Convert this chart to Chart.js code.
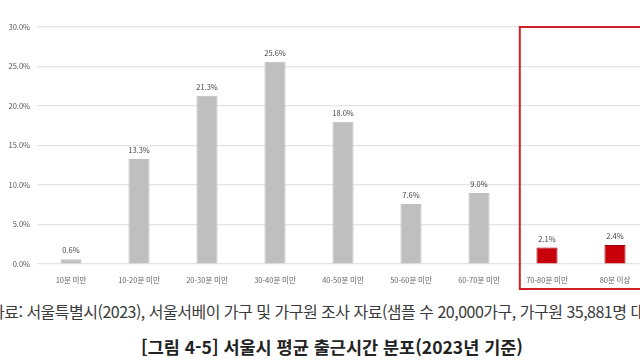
<!DOCTYPE html>
<html lang="ko">
<head>
    <meta charset="UTF-8">
    <title>서울시 평균 출근시간 분포</title>
    <style>
        html, body {
            margin: 0;
            padding: 0;
            background: #fff;
            width: 640px;
            height: 360px;
            overflow: hidden;
            position: relative;
            font-family: 'Noto Sans CJK KR', 'Noto Sans', sans-serif;
        }

        .chart-box {
            position: absolute;
            left: 0;
            top: 0;
            width: 649px;
            height: 292px;
        }

        .source {
            position: absolute;
            left: -10px;
            top: 300px;
            line-height: 22px;
            font-size: 16px;
            color: #3a3a3a;
            white-space: nowrap;
            letter-spacing: -0.5px;
        }

        .title {
            position: absolute;
            left: 0;
            width: 664px;
            top: 335px;
            line-height: 24px;
            text-align: center;
            font-size: 17.5px;
            font-weight: bold;
            color: #222;
            white-space: nowrap;
        }
    </style>
</head>
<body>

    <div class="chart-box">
        <canvas id="commuteChart"></canvas>
    </div>

    <div class="source">자료: 서울특별시(2023), 서울서베이 가구 및 가구원 조사 자료(샘플 수 20,000가구, 가구원 35,881명 대상)</div>
    <div class="title">[그림 4-5] 서울시 평균 출근시간 분포(2023년 기준)</div>

    <script src="https://cdn.jsdelivr.net/npm/chart.js"></script>

    <script>
        // 데이터
        const categories = ['10분 미만', '10-20분 미만', '20-30분 미만', '30-40분 미만', '40-50분 미만',
                            '50-60분 미만', '60-70분 미만', '70-80분 미만', '80분 이상'];
        const shares = [0.6, 13.3, 21.3, 25.6, 18.0, 7.6, 9.0, 2.1, 2.4];
        const yTicks = [0, 5, 10, 15, 20, 25, 30];
        const highlighted = ['70-80분 미만', '80분 이상'];

        const barColors = categories.map(c => highlighted.includes(c) ? '#c8000a' : '#bfbfbf');
        const barBorders = categories.map(c => highlighted.includes(c) ? '#9e0008' : '#bfbfbf');

        // 막대 위 값 표시
        const valueLabels = {
            id: 'valueLabels',
            afterDatasetsDraw(chart) {
                const ctx = chart.ctx;
                const meta = chart.getDatasetMeta(0);
                ctx.save();
                ctx.font = '7.5px "Noto Sans CJK KR", sans-serif';
                ctx.fillStyle = '#444';
                ctx.textAlign = 'center';
                ctx.textBaseline = 'bottom';
                meta.data.forEach((bar, i) => {
                    ctx.fillText(shares[i].toFixed(1) + '%', bar.x, bar.y - 5);
                });
                ctx.restore();
            }
        };

        // 강조 박스 (70분 이상)
        const highlightBox = {
            id: 'highlightBox',
            afterDraw(chart) {
                const ctx = chart.ctx;
                const x = chart.scales.x;
                const y = chart.scales.y;
                const left = x.getPixelForValue(6.6);
                const top = y.getPixelForValue(30);
                ctx.save();
                ctx.strokeStyle = '#d0202a';
                ctx.lineWidth = 2;
                ctx.strokeRect(left, top, chart.chartArea.right - left + 10, 262);
                ctx.restore();
            }
        };

        const commuteChart = new Chart(document.getElementById('commuteChart'), {
            type: 'bar',
            data: {
                labels: categories,
                datasets: [{
                    data: shares,
                    backgroundColor: barColors,
                    borderColor: barBorders,
                    borderWidth: 1,
                    categoryPercentage: 1,
                    barPercentage: 0.31
                }]
            },
            options: {
                responsive: true,
                maintainAspectRatio: false,
                animation: false,
                layout: { padding: { top: 27, right: 0, left: 0, bottom: 0 } },
                plugins: {
                    legend: { display: false },
                    tooltip: { enabled: false }
                },
                scales: {
                    x: {
                        grid: { display: false },
                        border: { display: false },
                        ticks: {
                            color: '#666',
                            font: { size: 7.5, family: 'Noto Sans CJK KR' },
                            maxRotation: 0,
                            autoSkip: false,
                            padding: 4
                        },
                        afterFit(scale) { scale.height = 28; }
                    },
                    y: {
                        min: 0,
                        max: 30,
                        afterBuildTicks(scale) { scale.ticks = yTicks.map(v => ({ value: v })); },
                        grid: { color: '#e4e4e4', lineWidth: 1.2, drawTicks: false },
                        border: { display: false },
                        ticks: {
                            color: '#555',
                            font: { size: 7.5, family: 'Noto Sans CJK KR' },
                            padding: 7,
                            callback: v => v.toFixed(1) + '%'
                        },
                        afterFit(scale) { scale.width = 37; }
                    }
                }
            },
            plugins: [valueLabels, highlightBox]
        });
    </script>

</body>
</html>
